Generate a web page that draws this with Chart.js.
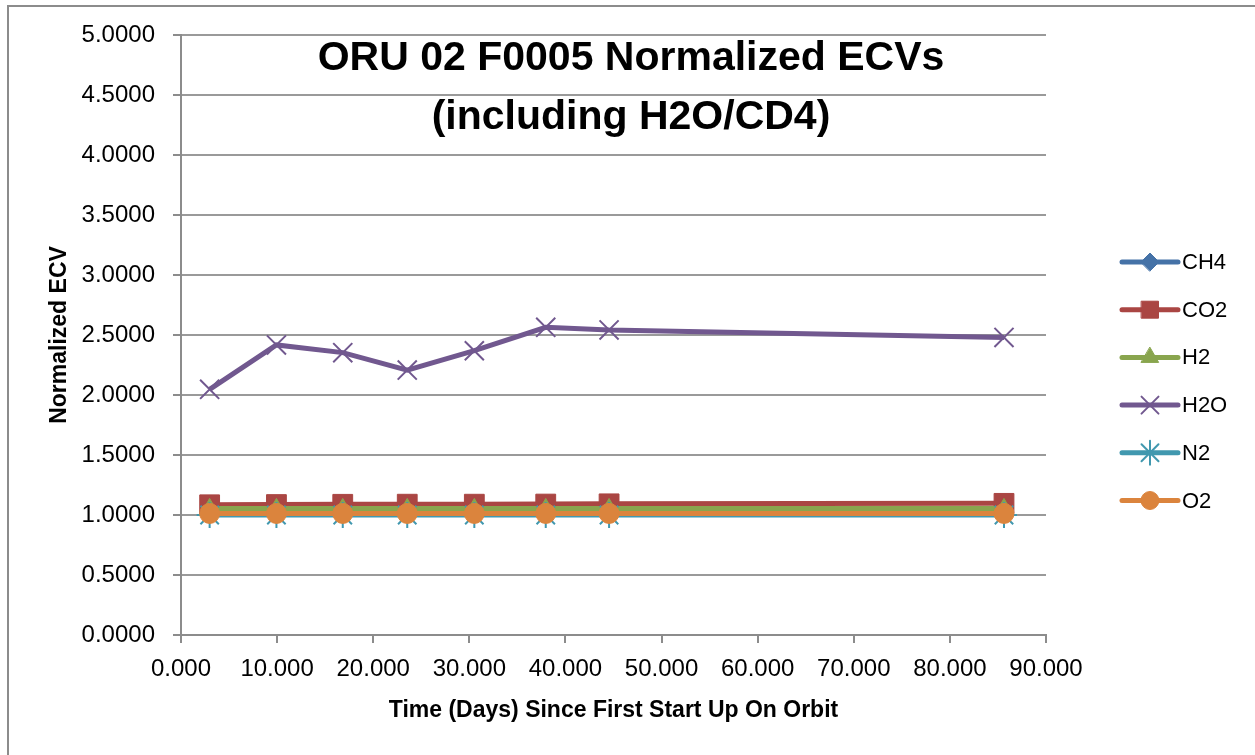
<!DOCTYPE html>
<html>
<head>
<meta charset="utf-8">
<script src="https://cdn.jsdelivr.net/npm/chart.js@4"></script>
<style>
  html, body { margin: 0; padding: 0; background: #fff; }
  #wrap { position: relative; width: 1255px; height: 755px; overflow: hidden; }
</style>
</head>
<body>
<div id="wrap"><canvas id="ecvChart" width="1255" height="755"></canvas></div>
<script>
// dias desde a primeira partida em orbita
const dias = [2.98, 9.93, 16.83, 23.54, 30.52, 37.95, 44.54, 85.63];

const ch4 = [1.02, 1.02, 1.02, 1.02, 1.02, 1.02, 1.02, 1.02];
const co2 = [1.085, 1.087, 1.089, 1.09, 1.09, 1.091, 1.093, 1.097];
const h2 = [1.055, 1.055, 1.055, 1.055, 1.055, 1.055, 1.055, 1.055];
const h2o = [2.047, 2.417, 2.353, 2.208, 2.369, 2.564, 2.542, 2.48];
const n2 = [1.0, 1.0, 1.0, 1.0, 1.0, 1.0, 1.0, 1.0];
const o2 = [1.013, 1.013, 1.013, 1.013, 1.013, 1.013, 1.013, 1.013];

const nomes = ["CH4", "CO2", "H2", "H2O", "N2", "O2"];
const series = [ch4, co2, h2, h2o, n2, o2];
const cores = ["#4572A7", "#AA4643", "#89A54E", "#71588F", "#4198AF", "#DB843D"];
const marcadores = ["rectRot", "rect", "triangle", "crossRot", "star", "circle"];
const raios = [9, 14, 10, 13.5, 13, 10];
const raiosLegenda = [9, 12, 10, 12, 12, 9];

const tituloLinhas = ["ORU 02 F0005 Normalized ECVs", "(including H2O/CD4)"];
const tituloY = "Normalized ECV";
const tituloX = "Time (Days) Since First Start Up On Orbit";

const FONTE = "'Liberation Sans', Arial, sans-serif";
const CINZA = "#8c8c8c";

const soTraco = m => m === "crossRot" || m === "star";

const datasets = nomes.map((nome, i) => ({
  label: nome,
  data: dias.map((d, j) => ({ x: d, y: series[i][j] })),
  borderColor: cores[i],
  backgroundColor: cores[i],
  borderWidth: 5,
  pointStyle: marcadores[i],
  pointRadius: raios[i],
  pointBorderWidth: soTraco(marcadores[i]) ? 2 : 1,
  pointBorderColor: cores[i],
  pointBackgroundColor: cores[i],
  tension: 0,
  order: nomes.length - i
}));

// moldura, titulo e legenda desenhados a mao
const extras = {
  id: "extras",
  beforeDraw(chart) {
    const c = chart.ctx;
    c.save();
    c.strokeStyle = CINZA;
    c.lineWidth = 2;
    c.strokeRect(8, 6, 1300, 800);
    c.restore();
  },
  afterDraw(chart) {
    const c = chart.ctx;
    c.save();
    c.fillStyle = "#000";
    c.textAlign = "center";
    c.textBaseline = "middle";
    c.font = "bold 41px " + FONTE;
    c.fillText(tituloLinhas[0], 631, 59);
    c.fillText(tituloLinhas[1], 631, 118);

    // legenda
    const x0 = 1122, x1 = 1178;
    nomes.forEach((nome, i) => {
      const y = 262 + i * 47.7;
      c.strokeStyle = cores[i];
      c.lineWidth = 5;
      c.lineCap = "round";
      c.beginPath();
      c.moveTo(x0, y);
      c.lineTo(x1, y);
      c.stroke();
      c.fillStyle = cores[i];
      c.lineWidth = soTraco(marcadores[i]) ? 2 : 1;
      Chart.helpers.drawPoint(c, { pointStyle: marcadores[i], radius: raiosLegenda[i], rotation: 0, borderWidth: c.lineWidth }, (x0 + x1) / 2, y);
      c.fillStyle = "#000";
      c.textAlign = "left";
      c.textBaseline = "middle";
      c.font = "22px " + FONTE;
      c.fillText(nome, 1182, y + 1);
    });
    c.restore();
  }
};

new Chart(document.getElementById("ecvChart"), {
  type: "line",
  data: { datasets },
  plugins: [extras],
  options: {
    responsive: false,
    animation: false,
    layout: { padding: { left: 0, right: 209, top: 35, bottom: 0 } },
    plugins: {
      legend: { display: false },
      tooltip: { enabled: false },
      title: { display: false }
    },
    scales: {
      x: {
        type: "linear",
        min: 0,
        max: 90,
        afterFit: s => { s.height = 120; },
        ticks: {
          stepSize: 10,
          color: "#000",
          padding: 12,
          maxRotation: 0,
          font: { family: FONTE, size: 24 },
          callback: v => v.toFixed(3)
        },
        grid: { drawOnChartArea: false, drawTicks: true, tickLength: 8, color: CINZA, lineWidth: 2 },
        border: { color: CINZA, width: 2 },
        title: {
          display: true,
          text: tituloX,
          color: "#000",
          font: { family: FONTE, size: 23, weight: "bold" },
          padding: { top: 0, bottom: 31 }
        }
      },
      y: {
        min: 0,
        max: 5,
        afterFit: s => { s.width = 181; },
        ticks: {
          stepSize: 0.5,
          color: "#000",
          padding: 18,
          font: { family: FONTE, size: 24 },
          callback: v => v.toFixed(4)
        },
        grid: { color: "#9a9a9a", lineWidth: 2, tickLength: 8, tickColor: CINZA },
        border: { color: CINZA, width: 2 },
        title: {
          display: true,
          text: tituloY,
          color: "#000",
          font: { family: FONTE, size: 23, weight: "bold" },
          padding: { top: 46, bottom: 0 }
        }
      }
    }
  }
});
</script>
</body>
</html>
